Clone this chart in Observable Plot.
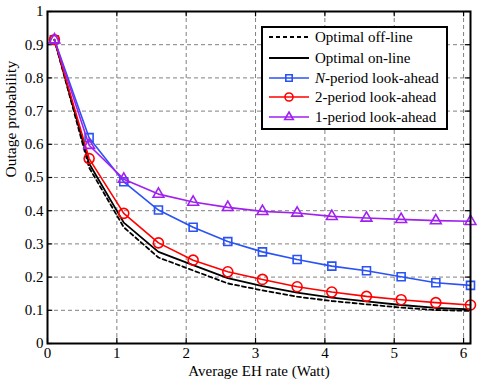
<!DOCTYPE html>
<html>
<head>
<meta charset="utf-8">
<script src="https://cdn.jsdelivr.net/npm/d3@7"></script>
<script src="https://cdn.jsdelivr.net/npm/@observablehq/plot@0.6"></script>
<style>
  body { margin: 0; background: #fff; }
  #wrap { position: relative; width: 498px; height: 383px; font-family: "Liberation Serif", "Times New Roman", serif; }
  #legend { position: absolute; left: 261px; top: 26px; width: 183px; height: 100px; border: 2px solid #000; background: #fff; font-size: 15px; }
  .row { position: absolute; left: 0; height: 20px; display: flex; align-items: center; white-space: nowrap; }
  .row svg { margin-left: 5px; margin-right: 5px; }
</style>
</head>
<body>
<div id="wrap"></div>
<script>
const xs = [0.1, 0.6, 1.1, 1.6, 2.1, 2.6, 3.1, 3.6, 4.1, 4.6, 5.1, 5.6, 6.1];
const offline = [0.915, 0.53, 0.35, 0.259, 0.22, 0.181, 0.16, 0.141, 0.128, 0.118, 0.108, 0.101, 0.098];
const online = [0.915, 0.542, 0.364, 0.276, 0.236, 0.197, 0.173, 0.153, 0.138, 0.127, 0.116, 0.107, 0.103];
const nPeriod = [0.915, 0.62, 0.487, 0.402, 0.35, 0.307, 0.276, 0.253, 0.233, 0.219, 0.201, 0.183, 0.175];
const twoPeriod = [0.915, 0.557, 0.392, 0.303, 0.251, 0.216, 0.193, 0.171, 0.155, 0.142, 0.132, 0.123, 0.116];
const onePeriod = [0.915, 0.597, 0.495, 0.45, 0.426, 0.41, 0.398, 0.393, 0.383, 0.378, 0.374, 0.37, 0.368];
const xTicks = [0, 1, 2, 3, 4, 5, 6];
const yTicks = [0, 0.1, 0.2, 0.3, 0.4, 0.5, 0.6, 0.7, 0.8, 0.9, 1];
const xTickLabels = ["0", "1", "2", "3", "4", "5", "6"];
const yTickLabels = ["0", "0.1", "0.2", "0.3", "0.4", "0.5", "0.6", "0.7", "0.8", "0.9", "1"];

const series = [
  {name: "Optimal off-line", vals: offline, color: "#000", dash: "4,3", symbol: null, width: 1.8},
  {name: "Optimal on-line", vals: online, color: "#000", dash: null, symbol: null, width: 1.8},
  {name: "N-period look-ahead", vals: nPeriod, color: "#2a52f5", dash: null, symbol: "square", r: 4.5, width: 1.6},
  {name: "2-period look-ahead", vals: twoPeriod, color: "#ff0000", dash: null, symbol: "circle", r: 5, width: 1.6},
  {name: "1-period look-ahead", vals: onePeriod, color: "#a020f0", dash: null, symbol: "triangle", r: 4, width: 1.6}
];

const gridColor = "#808080";
const marks = [
  Plot.ruleX(xTicks.slice(1), {stroke: gridColor, strokeDasharray: "4,3", strokeWidth: 1}),
  Plot.ruleY(yTicks.slice(1, -1), {stroke: gridColor, strokeDasharray: "4,3", strokeWidth: 1}),
  // inward tick marks
  Plot.ruleX(xTicks, {y1: 0, y2: 0.016, stroke: "#000", strokeWidth: 1.2}),
  Plot.ruleX(xTicks, {y1: 1, y2: 0.984, stroke: "#000", strokeWidth: 1.2}),
  Plot.ruleY(yTicks, {x1: 0, x2: 0.075, stroke: "#000", strokeWidth: 1.2}),
  Plot.ruleY(yTicks, {x1: 6.1, x2: 6.025, stroke: "#000", strokeWidth: 1.2}),
];
for (const s of series) {
  const data = xs.map((x, i) => ({x, y: s.vals[i]}));
  marks.push(Plot.line(data, {x: "x", y: "y", stroke: s.color, strokeWidth: s.width, strokeDasharray: s.dash || undefined}));
  if (s.symbol) {
    marks.push(Plot.dot(data, {x: "x", y: "y", stroke: s.color, fill: "none", strokeWidth: 1.6, symbol: s.symbol, r: s.r}));
  }
}
marks.push(Plot.frame({stroke: "#000", strokeWidth: 2}));
marks.push(Plot.axisX(xTicks, {tickSize: 0, tickPadding: 4, tickFormat: (d, i) => xTickLabels[i], fontSize: 15, label: null}));
marks.push(Plot.axisY(yTicks, {tickSize: 0, tickPadding: 4, tickFormat: (d, i) => yTickLabels[i], fontSize: 15, label: null}));
marks.push(Plot.text(["Average EH rate (Watt)"], {frameAnchor: "bottom", dy: 32, fontSize: 15, fill: "#000"}));
marks.push(Plot.text(["Outage probability"], {frameAnchor: "left", dx: -36, rotate: -90, fontSize: 15.5, fill: "#000"}));

const chart = Plot.plot({
  width: 498,
  height: 383,
  marginLeft: 47,
  marginRight: 28,
  marginTop: 11,
  marginBottom: 40,
  x: {domain: [0, 6.1], axis: null},
  y: {domain: [0, 1], axis: null},
  style: {fontFamily: '"Liberation Serif", "Times New Roman", serif', color: "#000", background: "#fff", overflow: "visible"},
  marks
});
const wrap = document.getElementById("wrap");
wrap.appendChild(chart);

// legend
const legend = document.createElement("div");
legend.id = "legend";
const rowTops = [-1, 20, 40, 59, 79];
series.forEach((s, i) => {
  const row = document.createElement("div");
  row.className = "row";
  row.style.top = rowTops[i] + "px";
  const sw = d3.create("svg").attr("width", 42).attr("height", 20);
  sw.append("line").attr("x1", 1).attr("x2", 41).attr("y1", 10).attr("y2", 10)
    .attr("stroke", s.color).attr("stroke-width", s.width).attr("stroke-dasharray", s.dash);
  if (s.symbol) {
    const symMap = {square: d3.symbolSquare, circle: d3.symbolCircle, triangle: d3.symbolTriangle};
    const size = Math.PI * (s.r * 0.8) ** 2;
    sw.append("path").attr("d", d3.symbol(symMap[s.symbol], size)()).attr("transform", "translate(21,10)")
      .attr("fill", "none").attr("stroke", s.color).attr("stroke-width", 1.6);
  }
  row.appendChild(sw.node());
  const label = document.createElement("span");
  if (i === 2) {
    label.innerHTML = "<i>N</i>-period look-ahead";
  } else {
    label.textContent = s.name;
  }
  row.appendChild(label);
  legend.appendChild(row);
});
wrap.appendChild(legend);
</script>
</body>
</html>
